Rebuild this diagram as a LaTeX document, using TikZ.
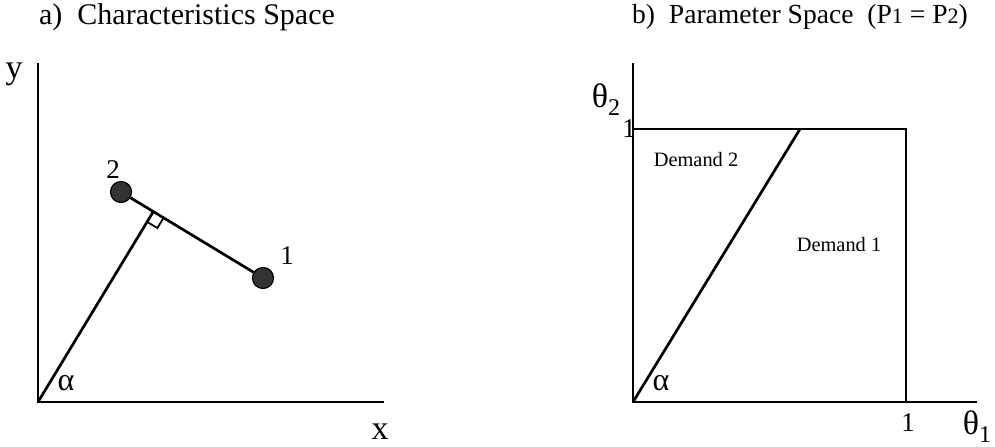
\documentclass[tikz,border=0pt]{standalone}
\usepackage{fontspec}
\setmainfont{Liberation Serif}
\usetikzlibrary{calc}

\tikzset{
    axis/.style={line width=1.35pt},
    dot/.style={circle, draw=black, fill=black!80, line width=0.6pt, minimum size=10.5pt, inner sep=0pt},
    ttl/.style={font=\fontsize{13.8}{16}\selectfont},
    lbl/.style={font=\fontsize{13.5}{15}\selectfont},
    grk/.style={font=\fontsize{16}{18}\selectfont},
    big/.style={font=\fontsize{17}{19}\selectfont},
    small/.style={font=\fontsize{10.2}{12}\selectfont}
}

\begin{document}
\begin{tikzpicture}[x=0.5pt,y=-0.5pt]
    \useasboundingbox (0,0) rectangle (995,446);
    % a) characteristics space
    \node[ttl,font=\fontsize{15}{17}\selectfont] (ta) at (187,17) {a)\ \ Characteristics Space};
    \coordinate (O) at (38,402);
    \coordinate (ytop) at (38,63);
    \coordinate (xend) at (384,402);
    \draw[axis] (ytop) -- (O) -- (xend);
    \node[big] (ylab) at (14,74) {y};
    \node[big] (xlab) at (380,432) {x};
    \node[dot] (two) at (121,192) {};
    \node[dot] (one) at (263,278) {};
    \node[lbl] (ltwo) at (113,170) {2};
    \node[lbl] (lone) at (287,256) {1};
    \draw[axis] (two) -- (one);
    \coordinate (F) at ($(two)!(O)!(one)$);
    \draw[axis] (O) -- (F);
    % right angle mark
    \coordinate (ra) at ($(F)!6pt!(one)$);
    \coordinate (rc) at ($(F)!6pt!(O)$);
    \draw[line width=0.9pt] (ra) -- ($(ra)+(rc)-(F)$) -- (rc);
    \node[grk] (alpha) at (66,383) {α};
    % b) parameter space
    \node[ttl] (tb) at (800,17) {b)\ \ Parameter Space\ \ (P{\fontsize{11}{12}\selectfont 1} = P{\fontsize{11}{12}\selectfont 2})};
    \coordinate (Q) at (633,402);
    \coordinate (ttop) at (633,63);
    \coordinate (tend) at (977,402);
    \coordinate (tl) at (633,129);
    \coordinate (tr) at (906,129);
    \coordinate (br) at (906,402);
    \coordinate (cut) at (800,129);
    \draw[axis] (ttop) -- (Q) -- (tend);
    \draw[axis] (tl) -- (tr) -- (br);
    \draw[axis] (Q) -- (cut);
    \node[big] (thtwo) at (606,100) {θ\raisebox{-0.5ex}{\fontsize{12}{13}\selectfont 2}};
    \node[big] (thone) at (977,427) {θ\raisebox{-0.5ex}{\fontsize{12}{13}\selectfont 1}};
    \node[lbl] (ytick) at (629,129) {1};
    \node[lbl] (xtick) at (908,423) {1};
    \node[small] (dtwo) at (696,160) {Demand 2};
    \node[small] (done) at (839,245) {Demand 1};
    \node[grk] (beta) at (661,383) {α};
\end{tikzpicture}
\end{document}
